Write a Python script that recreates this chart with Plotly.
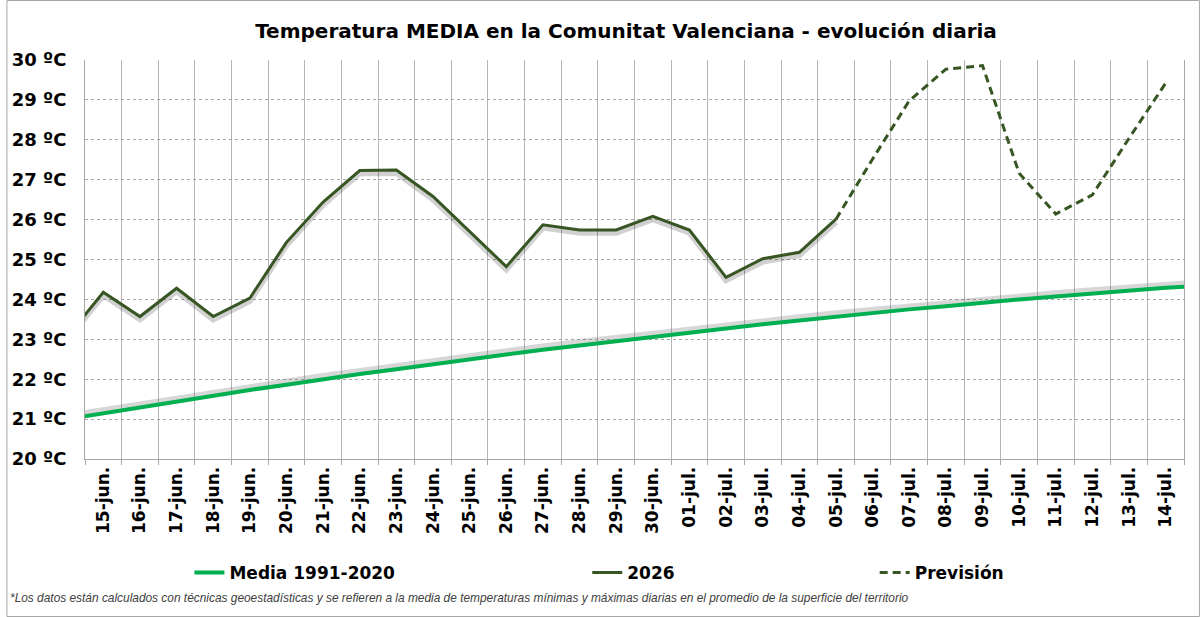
import plotly.graph_objects as go

# ---- data ----
dates = ["14-jun.", "15-jun.", "16-jun.", "17-jun.", "18-jun.", "19-jun.", "20-jun.", "21-jun.",
         "22-jun.", "23-jun.", "24-jun.", "25-jun.", "26-jun.", "27-jun.", "28-jun.", "29-jun.",
         "30-jun.", "01-jul.", "02-jul.", "03-jul.", "04-jul.", "05-jul.", "06-jul.", "07-jul.",
         "08-jul.", "09-jul.", "10-jul.", "11-jul.", "12-jul.", "13-jul.", "14-jul.", "15-jul."]

media_1991_2020 = [21.00, 21.15, 21.30, 21.45, 21.59, 21.73, 21.86, 22.00, 22.13, 22.25,
                   22.38, 22.50, 22.62, 22.74, 22.85, 22.96, 23.07, 23.17, 23.28, 23.38,
                   23.47, 23.57, 23.66, 23.75, 23.83, 23.92, 24.00, 24.07, 24.15, 24.22,
                   24.29, 24.35]

serie_2026 = [23.04, 24.18, 23.57, 24.28, 23.57, 24.03, 25.43, 26.44, 27.23, 27.24,
              26.58, 25.70, 24.82, 25.87, 25.74, 25.74, 26.08, 25.74, 24.55, 25.02,
              25.18, 26.01, None, None, None, None, None, None, None, None, None, None]

prevision = [None] * 21 + [26.01, 27.52, 28.98, 29.77, 29.86, 27.16, 26.14, 26.62, 28.04, 29.42, None]

y_ticks = [20, 21, 22, 23, 24, 25, 26, 27, 28, 29, 30]
y_labels = ["20 ºC", "21 ºC", "22 ºC", "23 ºC", "24 ºC", "25 ºC", "26 ºC", "27 ºC", "28 ºC", "29 ºC", "30 ºC"]

title = "Temperatura MEDIA en la Comunitat Valenciana - evolución diaria"
footnote = ("*Los datos están calculados con técnicas geoestadísticas y se refieren a la media de "
            "temperaturas mínimas y máximas diarias en el promedio de la superficie del territorio")

# ---- layout geometry ----
W, H = 1200, 617
ML, MR, MT, MB = 79, 16, 60, 158
PW, PH = W - ML - MR, H - MT - MB

def px_x(px):
    return (px - ML) / PW

def px_y(py):
    return (H - MB - py) / PH

GREEN = "#00B050"
DARK = "#375623"
FONT = "DejaVu Sans"

fig = go.Figure()

# shadows
fig.add_trace(go.Scatter(x=dates, y=[v + 0.07 for v in media_1991_2020], mode="lines",
                         line=dict(color="rgba(110,110,110,0.28)", width=7),
                         showlegend=False, hoverinfo="skip"))
fig.add_trace(go.Scatter(x=dates, y=media_1991_2020, mode="lines", name="Media 1991-2020",
                         line=dict(color=GREEN, width=4), legend="legend"))
fig.add_trace(go.Scatter(x=dates, y=[None if v is None else v - 0.07 for v in serie_2026], mode="lines",
                         line=dict(color="rgba(0,0,0,0.18)", width=6),
                         showlegend=False, hoverinfo="skip"))
fig.add_trace(go.Scatter(x=dates, y=serie_2026, mode="lines", name="2026",
                         line=dict(color=DARK, width=3), legend="legend2"))
fig.add_trace(go.Scatter(x=dates, y=prevision, mode="lines", name="Previsión",
                         line=dict(color=DARK, width=3, dash="8px,5px"), legend="legend3"))

leg_common = dict(orientation="h", yanchor="middle", xanchor="left", bgcolor="rgba(0,0,0,0)",
                  font=dict(family=FONT, size=17, color="#000000", weight="bold"), borderwidth=0)
ly = px_y(573)

fig.update_layout(
    width=W, height=H,
    margin=dict(l=ML, r=MR, t=MT, b=MB),
    paper_bgcolor="white", plot_bgcolor="white",
    title=dict(text=title, x=626 / W, xanchor="center", y=1 - 31 / H, yanchor="middle",
               font=dict(family=FONT, size=20, color="#000000", weight="bold")),
    legend=dict(x=px_x(184), y=ly, **leg_common),
    legend2=dict(x=px_x(584), y=ly, **leg_common),
    legend3=dict(x=px_x(873), y=ly, **leg_common),
    xaxis=dict(type="category", range=[0.5, 30.5], tickson="boundaries",
               showgrid=True, gridcolor="#B5B5B5", gridwidth=1,
               ticks="outside", ticklen=5, tickcolor="#A6A6A6",
               showline=True, linecolor="#A6A6A6", linewidth=1,
               tickangle=-90, tickfont=dict(family=FONT, size=17, color="#000000", weight="bold")),
    yaxis=dict(range=[20, 30], tickvals=y_ticks, ticktext=y_labels,
               showgrid=True, gridcolor="#A6A6A6", griddash="dot", gridwidth=1,
               zeroline=False, showline=True, linecolor="#A6A6A6", mirror=True,
               ticks="outside", ticklen=14, tickcolor="rgba(0,0,0,0)",
               tickfont=dict(family=FONT, size=18, color="#000000", weight="bold")),
    showlegend=True,
)

fig.add_annotation(text=footnote, xref="paper", yref="paper", x=px_x(2), y=px_y(598),
                   xanchor="left", yanchor="middle", showarrow=False,
                   font=dict(family="Liberation Sans Narrow, Liberation Sans", size=11.9,
                             color="#404040", style="italic"))

fig.add_shape(type="rect", xref="paper", yref="paper",
              x0=px_x(0.5), x1=px_x(W - 0.5), y0=px_y(H - 0.5), y1=px_y(0.5),
              line=dict(color="#A6A6A6", width=1), fillcolor="rgba(0,0,0,0)", layer="below")

fig.write_html("out.html")
